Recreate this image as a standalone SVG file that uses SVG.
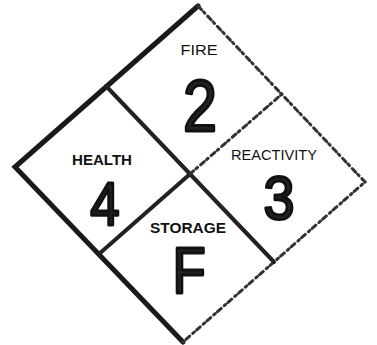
<svg xmlns="http://www.w3.org/2000/svg" width="377" height="345" viewBox="0 0 377 345">
<defs>
<style>
.dark{stroke:#1a1a1a;stroke-width:5;stroke-linecap:round;fill:none}
.inner{stroke:#222;stroke-width:4;stroke-linecap:round;fill:none}
.faint{stroke:#333;stroke-width:3;stroke-dasharray:5 3 2 4;stroke-linecap:round;fill:none}
.lbl{font-family:"Liberation Sans",Arial,sans-serif;font-size:14px;fill:#111;text-anchor:middle}
.dig{font-family:"Liberation Sans",Arial,sans-serif;fill:#222;stroke:#111;stroke-width:3;stroke-linejoin:round;text-anchor:middle}
</style>
</defs>
<rect width="377" height="345" fill="#fff"/>
<g id="connectors">
<path class="dark" d="M198,6 L15,167 L183,342"/>
<path class="faint" d="M198,6 L365,182 L183,342"/>
<path class="inner" d="M106,86 L274,262"/>
<path class="inner" d="M99,254 L190,174"/>
<path class="faint" d="M190,174 L282,94"/>
</g>
<g id="fire">
<text class="lbl" x="199" y="55" textLength="37" lengthAdjust="spacingAndGlyphs">FIRE</text>
<text class="dig" x="0" y="0" font-size="72" transform="translate(200,131) scale(0.85,1)">2</text>
</g>
<g id="health">
<text class="lbl" x="102" y="165" font-weight="bold" textLength="60" lengthAdjust="spacingAndGlyphs">HEALTH</text>
<text class="dig" x="0" y="0" font-size="62" transform="translate(105,225) scale(0.85,1)">4</text>
</g>
<g id="reactivity">
<text class="lbl" x="274" y="160" textLength="86" lengthAdjust="spacingAndGlyphs">REACTIVITY</text>
<text class="dig" x="0" y="0" font-size="62" transform="translate(279,219) scale(0.9,1)">3</text>
</g>
<g id="storage">
<text class="lbl" x="188" y="233" font-weight="bold" textLength="76" lengthAdjust="spacingAndGlyphs">STORAGE</text>
<text class="dig" x="0" y="0" font-size="64" transform="translate(189,293) scale(0.85,1)">F</text>
</g>
</svg>
